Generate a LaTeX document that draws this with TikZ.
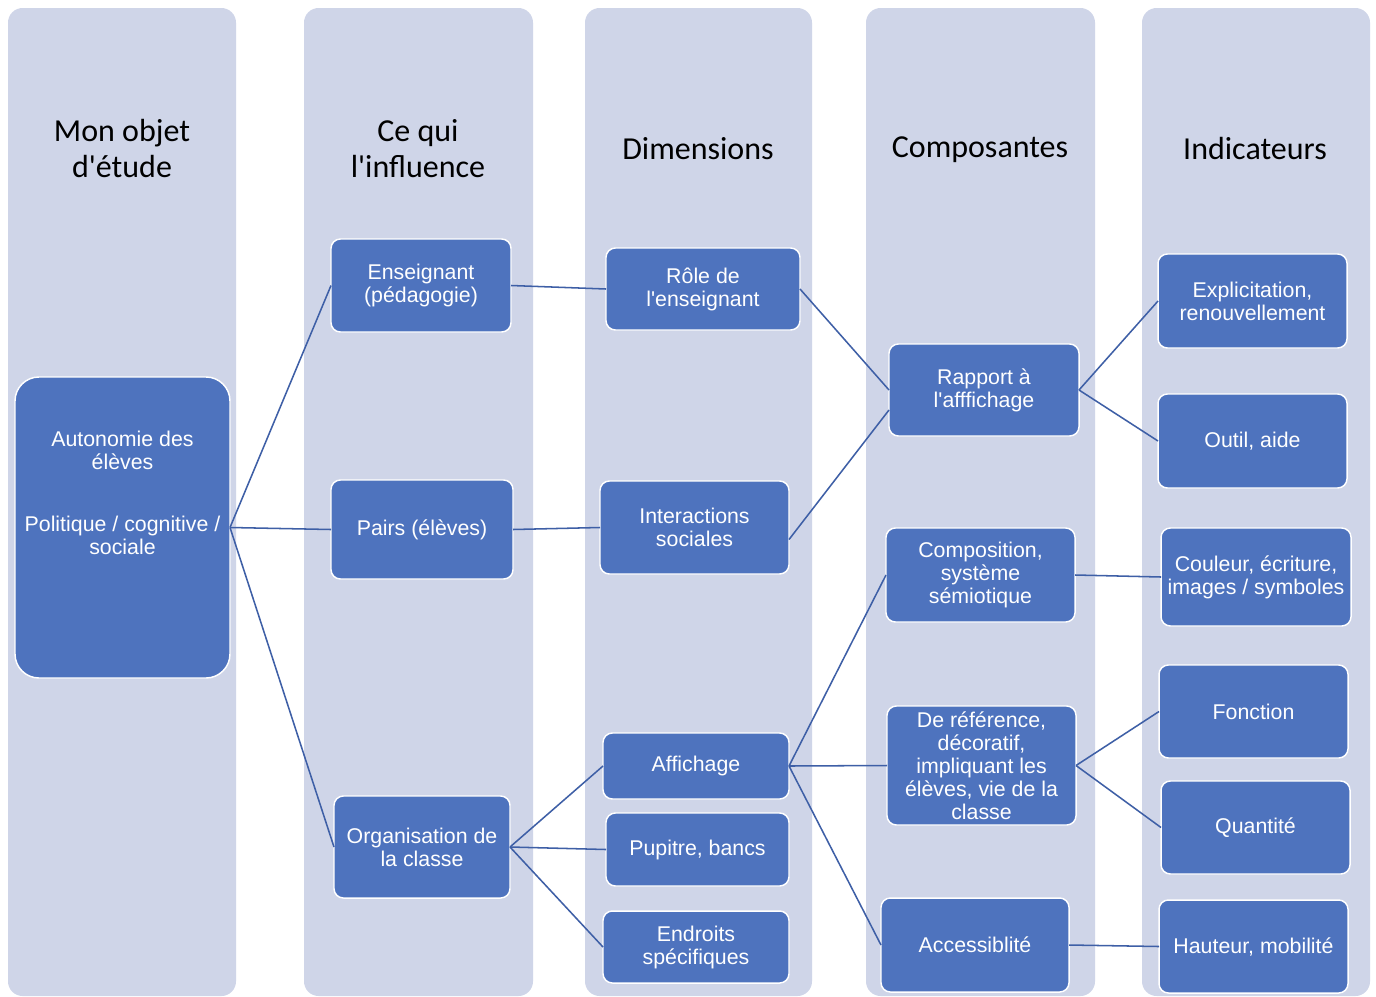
\documentclass[tikz,border=0pt]{standalone}
\usepackage{fontspec}
\setmainfont{Liberation Sans}
\newfontfamily\boxfont{Liberation Sans}
\newfontfamily\hdrfont{Carlito}
\usetikzlibrary{calc}
\definecolor{colbg}{HTML}{CFD5E8}
\definecolor{boxfill}{HTML}{4E73BE}
\definecolor{linkcol}{HTML}{3E5FA6}
\tikzset{
  colband/.style={fill=colbg, draw=none, rounded corners=11pt},
  bx/.style={fill=boxfill, draw=white, line width=1.1pt, rounded corners=7pt,
    inner sep=0pt, outer sep=0pt, align=center, text=white,
    font=\boxfont\fontsize{16pt}{17.25pt}\selectfont},
  sz/.style 2 args={minimum width=#1*0.75pt, minimum height=#2*0.75pt},
  hdr/.style={align=center, text=black, font=\hdrfont\fontsize{24pt}{27pt}\selectfont},
  link/.style={draw=linkcol, line width=1.15pt}
}
\begin{document}
\begin{tikzpicture}[x=0.75pt,y=-0.75pt]
\useasboundingbox (0,0) rectangle (1376,996);
\fill[white] (0,0) rectangle (1376,996);
% column bands
\path[colband] (8,8) rectangle (236,996);
\path[colband] (304,8) rectangle (533,996);
\path[colband] (585,8) rectangle (812,996);
\path[colband] (866,8) rectangle (1095,996);
\path[colband] (1142,8) rectangle (1370,996);
% headers
\node[hdr] (h1) at (122,149) {Mon objet\\d'étude};
\node[hdr] (h2) at (418,149) {Ce qui\\l'influence};
\node[hdr] (h3) at (698,149) {Dimensions};
\node[hdr] (h4) at (980,150) {Composantes};
\node[hdr] (h5) at (1255,149) {Indicateurs};
% boxes
\node[bx, rounded corners=18pt, sz={215}{301},
  label={[align=center, text=white, font=\boxfont\fontsize{16pt}{17.25pt}\selectfont, yshift=26pt]center:Autonomie des\\élèves\\[29pt]Politique / cognitive /\\sociale}] (auto) at (122.5,527.5) {};
\node[bx, sz={180}{93}] (ens) at (421,285.5) {Enseignant\\(pédagogie)};
\node[bx, sz={182}{99}] (pairs) at (422,529.5) {Pairs (élèves)};
\node[bx, sz={176}{102}] (orga) at (422,847) {Organisation de\\la classe};
\node[bx, sz={194}{82}] (role) at (703,289) {Rôle de\\l'enseignant};
\node[bx, sz={189}{93}] (inter) at (694.5,527.5) {Interactions\\sociales};
\node[bx, sz={186}{66}] (aff) at (696,766) {Affichage};
\node[bx, sz={183}{73}] (pup) at (697.5,849.5) {Pupitre, bancs};
\node[bx, sz={186}{72}] (endr) at (696,947) {Endroits\\spécifiques};
\node[bx, sz={190}{92}] (rapp) at (984,390) {Rapport à\\l'afffichage};
\node[bx, sz={189}{94}] (comp) at (980.5,575) {Composition,\\système\\sémiotique};
\node[bx, sz={189}{119}] (deref) at (981.5,765.5) {De référence,\\décoratif,\\impliquant les\\élèves, vie de la\\classe};
\node[bx, sz={188}{94}] (acc) at (975,945) {Accessiblité};
\node[bx, sz={189}{94}] (expl) at (1252.5,301) {Explicitation,\\renouvellement};
\node[bx, sz={189}{94}] (outil) at (1252.5,441) {Outil, aide};
\node[bx, sz={190}{98}] (coul) at (1256,577) {Couleur, écriture,\\images / symboles};
\node[bx, sz={189}{93}] (fonc) at (1253.5,711.5) {Fonction};
\node[bx, sz={189}{93}] (quant) at (1255.5,827.5) {Quantité};
\node[bx, sz={189}{93}] (haut) at (1253.5,946.5) {Hauteur, mobilité};
% connectors
\draw[link] (auto.east) -- (ens.west);
\draw[link] (auto.east) -- (pairs.west);
\draw[link] (auto.east) -- (orga.west);
\draw[link] (ens.east) -- (role.west);
\draw[link] (pairs.east) -- (inter.west);
\draw[link] (orga.east) -- (aff.west);
\draw[link] (orga.east) -- (pup.west);
\draw[link] (orga.east) -- (endr.west);
\draw[link] (role.east) -- (rapp.west);
\draw[link] ($(inter.east)+(0,12)$) -- ($(rapp.west)+(0,20)$);
\draw[link] (aff.east) -- (comp.west);
\draw[link] (aff.east) -- (deref.west);
\draw[link] (aff.east) -- (acc.west);
\draw[link] (rapp.east) -- (expl.west);
\draw[link] (rapp.east) -- (outil.west);
\draw[link] (comp.east) -- (coul.west);
\draw[link] (deref.east) -- (fonc.west);
\draw[link] (deref.east) -- (quant.west);
\draw[link] (acc.east) -- (haut.west);
\end{tikzpicture}
\end{document}
